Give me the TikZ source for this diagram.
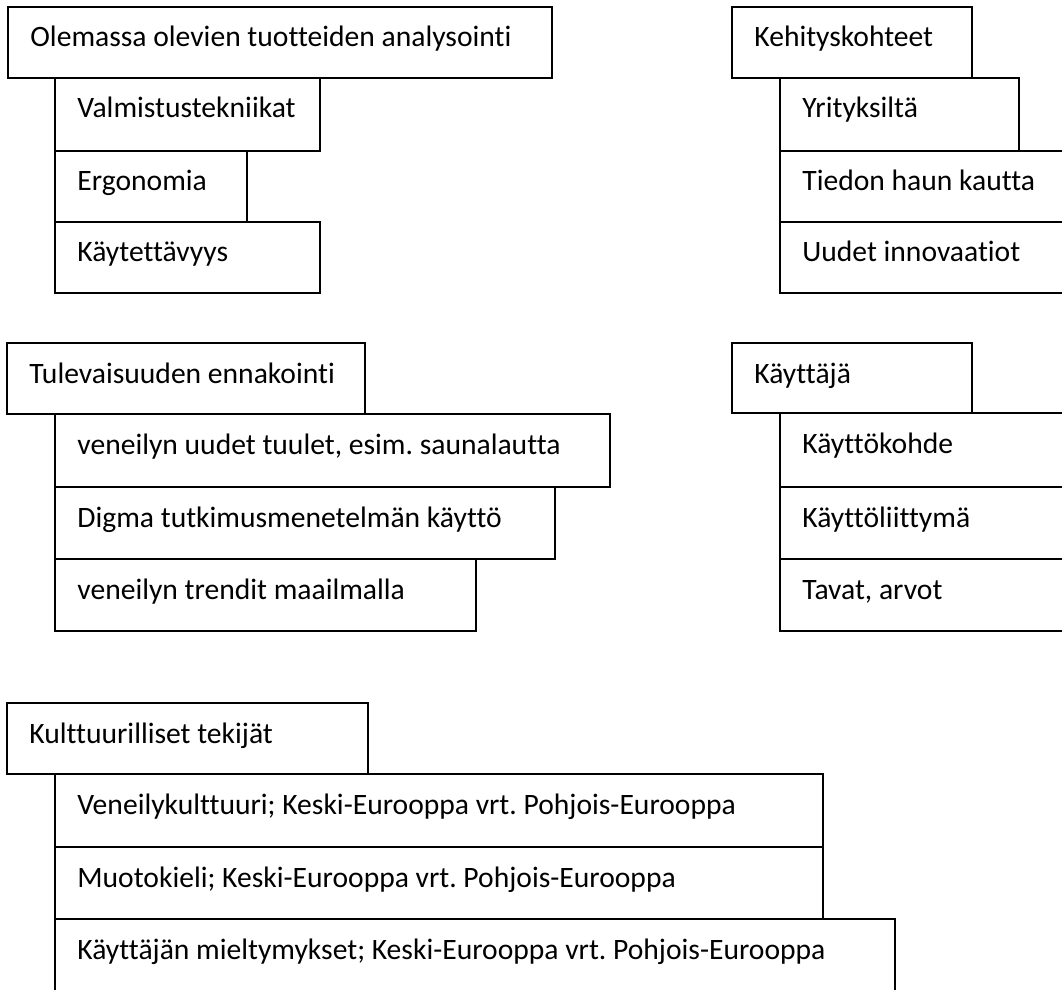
\documentclass[tikz,border=0pt]{standalone}
\usepackage{fontspec}
\setmainfont{Carlito}[Ligatures=NoCommon]
\frenchspacing
\newcommand\mybox[6]{%
  \pgfmathsetmacro\myBW{(#4-#2)*0.5}%
  \pgfmathsetmacro\myBH{(#5-#3)*0.5}%
  \node[bx, minimum width=\myBW pt, minimum height=\myBH pt] (#1) at (#2,#3) {};%
  \node[tx] (#1t) at ([shift={(22,40)}]#1.north west) {#6};%
}
\begin{document}
\begin{tikzpicture}[x=0.5pt,y=-0.5pt,
  bx/.style={draw, rectangle, anchor=north west, inner sep=0pt, outer sep=0pt, line width=0.95pt},
  tx/.style={anchor=base west, inner sep=0pt, font=\fontsize{14.8}{17}\selectfont}]
\useasboundingbox (0,0) rectangle (1062,990);
\clip (0,0) rectangle (1062,990);
% group 1
\mybox{a0}{8}{7}{552}{78}{Olemassa olevien tuotteiden analysointi}
\mybox{a1}{55}{78}{320}{151}{Valmistustekniikat}
\mybox{a2}{55}{151}{247}{222}{Ergonomia}
\mybox{a3}{55}{222}{320}{293}{Käytettävyys}
% group 2
\mybox{b0}{732}{7}{972}{78}{Kehityskohteet}
\mybox{b1}{780}{78}{1019}{151}{Yrityksiltä}
\mybox{b2}{780}{151}{1080}{222}{Tiedon haun kautta}
\mybox{b3}{780}{222}{1080}{293}{Uudet innovaatiot}
% group 3
\mybox{c0}{7}{343}{365}{414}{Tulevaisuuden ennakointi}
\mybox{c1}{55}{414}{610}{487}{veneilyn uudet tuulet, esim. saunalautta}
\mybox{c2}{55}{487}{555}{559}{Digma tutkimusmenetelmän käyttö}
\mybox{c3}{55}{559}{476}{631}{veneilyn trendit maailmalla}
% group 4
\mybox{d0}{732}{343}{972}{413}{Käyttäjä}
\mybox{d1}{780}{413}{1080}{487}{Käyttökohde}
\mybox{d2}{780}{487}{1080}{559}{Käyttöliittymä}
\mybox{d3}{780}{559}{1080}{631}{Tavat, arvot}
% group 5
\mybox{e0}{7}{703}{368}{774}{Kulttuurilliset tekijät}
\mybox{e1}{55}{774}{823}{847}{Veneilykulttuuri; Keski-Eurooppa vrt. Pohjois-Eurooppa}
\mybox{e2}{55}{847}{823}{919}{Muotokieli; Keski-Eurooppa vrt. Pohjois-Eurooppa}
\mybox{e3}{55}{919}{895}{1010}{Käyttäjän mieltymykset; Keski-Eurooppa vrt. Pohjois-Eurooppa}
\end{tikzpicture}
\end{document}
